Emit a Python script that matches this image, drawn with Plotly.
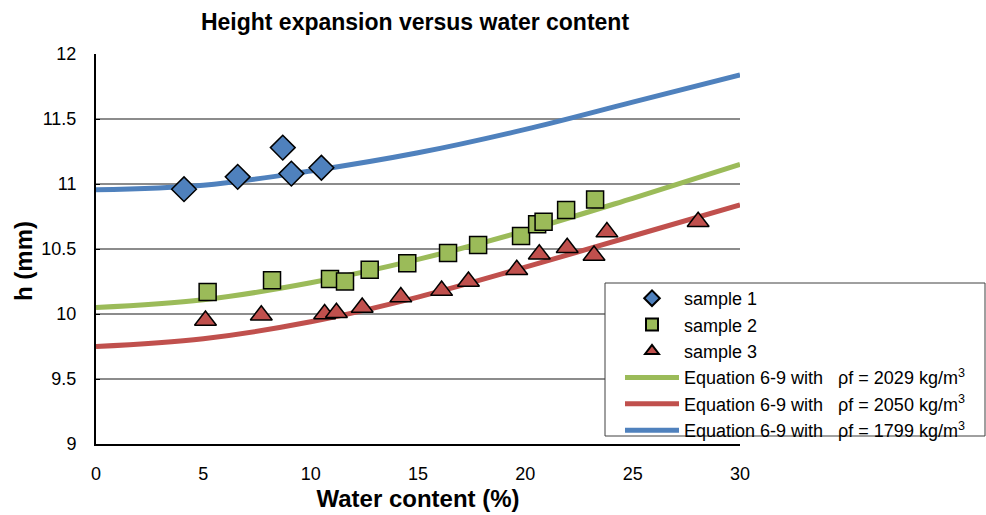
import plotly.graph_objects as go

# Measured data
s1_x = [4.1, 6.6, 8.7, 9.1, 10.5]
s1_y = [10.96, 11.055, 11.28, 11.08, 11.125]

s2_x = [5.2, 8.2, 10.9, 11.6, 12.75, 14.5, 16.4, 17.8, 19.8, 20.55, 20.85, 21.9, 23.25]
s2_y = [10.17, 10.26, 10.27, 10.25, 10.34, 10.39, 10.47, 10.53, 10.60, 10.69, 10.71, 10.80, 10.88]

s3_x = [5.1, 7.7, 10.65, 11.2, 12.4, 14.2, 16.1, 17.35, 19.6, 20.65, 21.95, 23.2, 23.8, 28.05]
s3_y = [9.95, 9.99, 10.00, 10.01, 10.05, 10.13, 10.18, 10.25, 10.34, 10.46, 10.51, 10.45, 10.63, 10.71]

# Model curves (Equation 6-9)
eq_x = [0, 5, 10, 15, 20, 25, 30]
eq_green_y = [10.05, 10.11, 10.24, 10.42, 10.64, 10.89, 11.15]
eq_red_y = [9.75, 9.81, 9.94, 10.13, 10.36, 10.60, 10.84]
eq_blue_y = [10.955, 10.99, 11.10, 11.24, 11.42, 11.63, 11.84]

x_ticks = [0, 5, 10, 15, 20, 25, 30]
y_ticks = [9, 9.5, 10, 10.5, 11, 11.5, 12]

BLUE = "#4F81BD"
GREEN = "#9BBB59"
RED = "#C0504D"
FONT = "Arial, Liberation Sans, sans-serif"
NB = "\u00a0"

# plot area in pixels
L, R, T, B = 96, 740, 54, 444
W, H = 986, 515
PW, PH = R - L, B - T

fig = go.Figure()

def eq_name(v):
    return f"Equation 6-9 with{NB*3}ρf = {v} kg/m<sup>3</sup>"

fig.add_trace(go.Scatter(x=eq_x, y=eq_green_y, mode="lines", line=dict(color=GREEN, width=5, shape="spline"),
                         name=eq_name(2029), legendrank=4))
fig.add_trace(go.Scatter(x=eq_x, y=eq_red_y, mode="lines", line=dict(color=RED, width=5, shape="spline"),
                         name=eq_name(2050), legendrank=5))
fig.add_trace(go.Scatter(x=eq_x, y=eq_blue_y, mode="lines", line=dict(color=BLUE, width=5, shape="spline"),
                         name=eq_name(1799), legendrank=6))

fig.add_trace(go.Scatter(x=s1_x, y=s1_y, mode="markers", name="sample 1", legendrank=1,
                         marker=dict(symbol="diamond", size=19, color=BLUE, line=dict(color="black", width=1.5))))
fig.add_trace(go.Scatter(x=s2_x, y=s2_y, mode="markers", name="sample 2", legendrank=2,
                         marker=dict(symbol="square", size=17, color=GREEN, line=dict(color="black", width=1.5))))
fig.add_trace(go.Scatter(x=s3_x, y=s3_y, mode="markers", name="sample 3", legendrank=3,
                         marker=dict(symbol="triangle-up", size=19, color=RED, line=dict(color="black", width=1.5))))

# legend frame
fig.add_shape(type="rect", xref="paper", yref="paper",
              x0=(605 - L) / PW, x1=(985 - L) / PW, y0=(B - 436) / PH, y1=(B - 283) / PH,
              line=dict(color="#404040", width=1), fillcolor="white", layer="above")

# y-axis title
fig.add_annotation(text="<b>h (mm)</b>", xref="paper", yref="paper",
                   x=(23 - L) / PW, y=(B - 261) / PH, xanchor="center", yanchor="middle",
                   textangle=-90, showarrow=False, font=dict(size=24, family=FONT, color="black"))

fig.update_layout(
    width=W, height=H,
    margin=dict(l=L, r=W - R, t=T, b=H - B, autoexpand=False),
    paper_bgcolor="white", plot_bgcolor="white",
    font=dict(family=FONT, color="black", size=18),
    title=dict(text="<b>Height expansion versus water content</b>", x=415 / W, xanchor="center",
               y=1 - 22 / H, yanchor="middle", font=dict(size=23, family=FONT)),
    showlegend=True,
    legend=dict(x=(620 - L) / PW, xanchor="left", y=(B - 280) / PH, yanchor="top",
                borderwidth=0, bgcolor="rgba(0,0,0,0)",
                font=dict(size=18, family=FONT), itemwidth=54, itemsizing="constant",
                tracegroupgap=0),
    xaxis=dict(range=[0, 30], tickvals=x_ticks, showgrid=False,
               showline=True, linecolor="black", linewidth=2, zeroline=False,
               ticks="", tickfont=dict(size=18), ticklabelstandoff=12,
               title=dict(text="<b>Water content (%)</b>", font=dict(size=24), standoff=8)),
    yaxis=dict(range=[9, 12], tickvals=y_ticks, showgrid=True,
               gridcolor="#8c8c8c", gridwidth=1.5, showline=True, linecolor="black", linewidth=2,
               zeroline=False, ticks="inside", ticklen=4, tickcolor="black",
               tickfont=dict(size=18), ticklabelstandoff=14),
)

fig.write_html("out.html")
